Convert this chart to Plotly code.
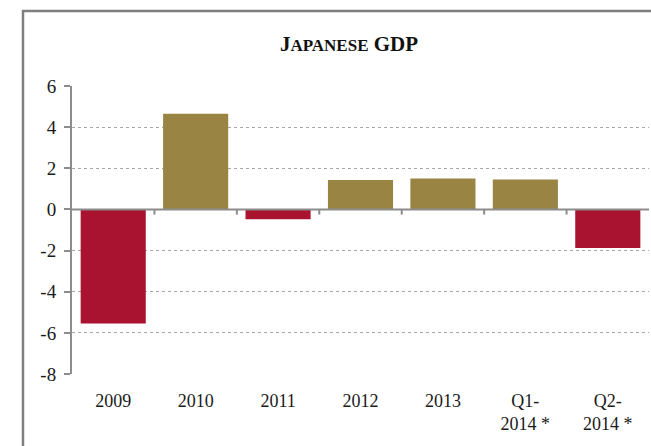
import plotly.graph_objects as go

categories = ["2009", "2010", "2011", "2012", "2013", "Q1-<br>2014 *", "Q2-<br>2014 *"]
gdp_growth = [-5.55, 4.65, -0.48, 1.43, 1.5, 1.46, -1.87]
y_ticks = [-8, -6, -4, -2, 0, 2, 4, 6]

RED = "#AA1330"
GOLD = "#998443"
colors = [RED if v < 0 else GOLD for v in gdp_growth]

FONT = "Liberation Serif, Times New Roman, serif"

fig = go.Figure()
fig.add_trace(go.Bar(
    x=categories, y=gdp_growth,
    marker=dict(color=colors, line=dict(width=0)),
    width=0.79,
))

W, H = 651, 446
L, R, T, B = 72, 2, 86, 72
pw, ph = W - L - R, H - T - B

def px_to_paper_x(px):
    return (px - L) / pw

def px_to_paper_y(py):
    return 1 + (T - py) / ph

fig.update_layout(
    width=W, height=H,
    margin=dict(l=L, r=R, t=T, b=B),
    plot_bgcolor="white", paper_bgcolor="white",
    showlegend=False,
    font=dict(family=FONT, color="#1a1a1a", size=17),
    title=dict(
        text="<b>J<span style='font-size:17px'>APANESE</span> GDP</b>",
        x=px_to_paper_x(349), xref="paper", xanchor="center",
        y=1 - 44 / H, yref="container", yanchor="middle",
        font=dict(family=FONT, size=21, color="#111111"),
    ),
    xaxis=dict(
        showgrid=False,
        showline=False,
        ticks="",
        tickfont=dict(size=18, family=FONT, color="#1a1a1a"),
        zeroline=False,
        ticklabelstandoff=14,
    ),
    yaxis=dict(
        range=[-8, 6],
        tickvals=y_ticks,
        ticktext=[str(v) for v in y_ticks],
        showgrid=True, gridcolor="#a8a8a8", griddash="dot", gridwidth=1,
        showline=True, linecolor="#8c8c8c", linewidth=2,
        ticks="outside", ticklen=6, tickwidth=2, tickcolor="#8c8c8c",
        tickfont=dict(size=19, family=FONT, color="#1a1a1a"),
        zeroline=False,
        ticklabelstandoff=4,
    ),
)

# Zero axis line with category-divider ticks
fig.add_shape(type="line", xref="paper", yref="y", x0=0, x1=1, y0=0, y1=0,
              line=dict(color="#8c8c8c", width=2))
n = len(categories)
for i in range(1, n):
    fig.add_shape(type="line", xref="x", yref="y",
                  x0=i - 0.5, x1=i - 0.5, y0=0, y1=-0.25,
                  line=dict(color="#8c8c8c", width=2))

# outer frame (left and top edges visible)
fig.add_shape(type="rect", xref="paper", yref="paper",
              x0=px_to_paper_x(23), x1=px_to_paper_x(700),
              y0=px_to_paper_y(500), y1=px_to_paper_y(11),
              line=dict(color="#7f7f7f", width=2.5), layer="below")

fig.write_html("out.html")
